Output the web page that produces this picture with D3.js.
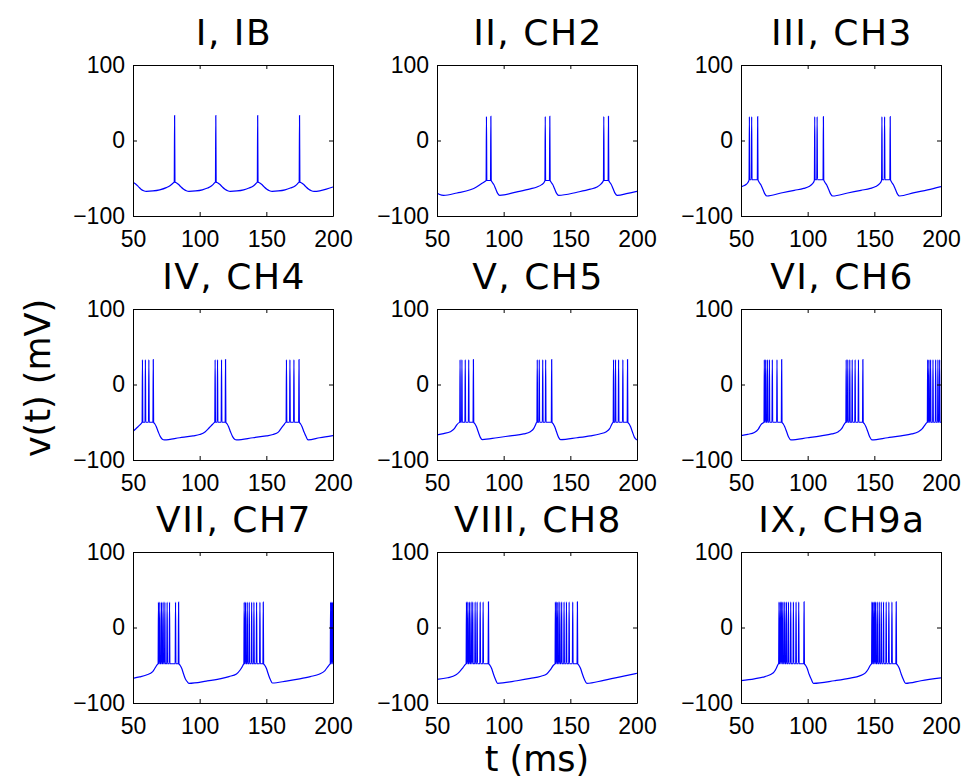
<!DOCTYPE html>
<html>
<head>
<meta charset="utf-8">
<script src="https://cdn.jsdelivr.net/npm/d3@7"></script>
<style>
	body { margin: 0; background: #fff; }
	svg { display: block; }
</style>
</head>
<body>
<div id="chart"></div>
<script>
'use strict';

// tick labels, shared by all panels
const xTicks = [50, 100, 150, 200];
const yTicks = [-100, 0, 100];

const titles = ["I, IB", "II, CH2", "III, CH3",
	"IV, CH4", "V, CH5", "VI, CH6",
	"VII, CH7", "VIII, CH8", "IX, CH9a"];

// sub-threshold trace as [t (ms), v (mV)]
// spikes are listed apart as spike times; peak / reset are per panel
const base1 = [[50,-55.3],[52,-57.5],[54,-61],[56,-64.5],[58,-66.5],[60,-67.3],[65,-66.8],[70,-65.3],[75,-62.4],[78,-59.5],[80,-56.5],
	[82.5,-56],[84,-58],[86,-61.5],[88,-64.5],[90,-66.5],[92,-67.3],[97,-66.8],[102,-65.3],[106,-63],[109,-60],[111,-56.5],
	[113.4,-56],[115,-58],[117,-61.5],[119,-64.5],[121,-66.5],[123,-67.3],[128,-66.8],[133,-65.3],[137,-63],[140.5,-60],[142.5,-56.5],
	[144.8,-56],[146.4,-58],[148.4,-61.5],[150.4,-64.5],[152.4,-66.5],[154.4,-67.3],[159,-66.8],[164,-65.3],[168,-63],[171.8,-60],[173.8,-56.5],
	[176.2,-56],[177.8,-58],[179.8,-61.5],[181.8,-64.5],[183.8,-66.5],[185.8,-67.3],[190,-66.6],[195,-64.5],[200,-61.5]];
const spikes1 = [81.2, 112.1, 143.5, 174.9];

const base2 = [[50,-69.5],[52,-71.5],[55,-72.6],[65,-69.5],[75,-65.3],[79.6,-61.5],[83,-57.5],[86.2,-54],
	[91.3,-55],[92.5,-58],[94,-64],[95.5,-70],[97,-72.6],[110,-68],[120,-64],[125,-61.5],[128.5,-58.5],[130.6,-54.5],
	[135.5,-55],[136.7,-58],[138.2,-64],[139.7,-70],[141.2,-72.6],[155,-68.5],[165,-64.5],[170,-61.5],[172.5,-58.5],[174.4,-54.5],
	[179.4,-55],[180.6,-58],[182.1,-64],[183.6,-70],[185.1,-72.6],[193,-70],[200,-67.3]];
const spikes2 = [87.1, 90.4, 131.2, 134.6, 175.1, 178.6];

const base3 = [[50,-61.5],[52,-60],[54,-58],[55.7,-54],
	[63.5,-55],[65,-59],[66.5,-65],[68,-71],[69.5,-73.5],[80,-69.5],[90,-66],[97,-63.5],[101,-61],[103.5,-57.5],[104.8,-54],
	[112.8,-55],[114.3,-59],[115.8,-65],[117.3,-71],[118.8,-73.5],[130,-69.5],[140,-66],[147,-63.5],[151,-61],[153.8,-57.5],[155.2,-54],
	[162.9,-55],[164.4,-59],[165.9,-65],[167.4,-71],[168.9,-73.5],[180,-69],[190,-65.5],[200,-61]];
const spikes3 = [56.3, 58.0, 62.5, 105.3, 107.1, 111.8, 155.7, 157.7, 161.9];

const base4 = [[50,-61.9],[52,-59],[54,-55.5],[56.4,-51],
	[66.3,-52],[67.5,-56],[69,-63],[70.5,-69],[72,-72.5],[73.5,-73.4],[85,-70.5],[95,-68],[100,-66.3],[104,-63],[107.3,-57],[109.5,-53],[110.9,-50.5],
	[120.5,-52],[121.7,-56],[123.2,-63],[124.7,-69],[126.2,-72.5],[127.7,-73.4],[140,-70.5],[150,-68],[155,-66.3],[159,-63],[161.5,-57],[163.3,-53],[164.4,-50.5],
	[175.6,-52],[176.8,-56],[178.3,-63],[179.8,-69],[181.3,-73.4],[190,-70.5],[200,-67.6]];
const spikes4 = [57.1, 59.3, 61.9, 65.2, 111.6, 113.4, 116.4, 119.4, 165.1, 167.7, 170.7, 174.5];

const base5 = [[50,-66.8],[55,-65],[60,-62.5],[63,-58.5],[65,-53],[66.6,-50.5],
	[78.4,-52],[79.6,-56],[81,-63],[82.5,-70],[84,-73],[95,-70.5],[105,-68],[115,-65.5],[120,-62.5],[122.5,-58.5],[124,-53],[124.6,-50.5],
	[137.1,-52],[138.3,-56],[139.7,-63],[141.2,-70],[142.7,-73],[155,-70.5],[165,-68],[172,-65.5],[177,-62.5],[179.5,-58.5],[181,-53],[181.8,-50.5],
	[194,-52],[195.2,-56],[196.6,-63],[198.1,-70],[200,-73.5]];
const spikes5 = [67.3, 68.7, 71.2, 73.8, 77.3, 125.2, 126.7, 129.3, 131.5, 136, 182.4, 183.9, 186.2, 189.4, 192.9];

const base6 = [[50,-67.6],[55,-66],[60,-63.5],[63,-59],[65,-53],[66.8,-50.5],
	[81.6,-52],[82.8,-56],[84.3,-63],[85.8,-70],[87.3,-73.4],[100,-70.5],[110,-68],[118,-65.5],[123,-62.5],[125.5,-58.5],[127.3,-53],[128.3,-50.5],
	[142.5,-52],[143.7,-56],[145.2,-63],[146.7,-70],[148.2,-73.4],[160,-70.5],[170,-68],[178,-65.5],[183,-62.5],[186,-58.5],[188.2,-53],[189.4,-50.5],
	[200,-50]];
const spikes6 = [67.5, 68.5, 69.8, 71.3, 73.5, 77, 80.5, 128.9, 130.1, 131.6, 133.4, 135.6, 138.1, 141.4, 190, 191, 192.2, 194, 196, 197.7, 199];

const base7 = [[50,-67.3],[55,-65.5],[60,-63],[64.8,-58.4],[66.8,-53],[68.5,-48.5],
	[85.3,-50],[86.5,-54],[88,-62],[89.5,-69],[91,-72.5],[92,-73.9],[105,-71],[115,-68],[122,-65],[127.6,-61.5],[130.5,-56],[132.5,-50],[132.9,-48.5],
	[148.8,-50],[150,-54],[151.5,-62],[153,-69],[154.5,-73.5],[165,-71],[175,-68],[183,-65],[190,-61.5],[194,-57],[196.5,-51],[197.7,-48.5],
	[200.5,-48]];
const spikes7 = [69.1, 70.1, 71.4, 72.6, 73.9, 75.6, 77.4, 81.9, 84.2, 133.4, 134.4, 135.7, 137.2, 139, 140.7, 142.7, 145.2, 147.7, 198.2, 199, 199.8];

const base8 = [[50,-68.6],[58,-66.5],[64,-63],[67,-58.4],[69.5,-53],[71.5,-48.5],
	[89.7,-50],[90.9,-54],[92.4,-62],[93.9,-69],[95.4,-73.9],[110,-70.5],[120,-67.5],[128,-64.5],[132.3,-61.5],[135,-56],[137.3,-50],[138.3,-48.5],
	[156.4,-50],[157.6,-54],[159.1,-62],[160.6,-69],[162.4,-73.9],[175,-70],[190,-64.5],[200,-60.6]];
const spikes8 = [72.1, 73.1, 74.3, 75.6, 76.8, 78.6, 80.1, 82.4, 84.6, 88.6, 138.8, 139.8, 140.8, 142.1, 143.5, 145.3, 147.1, 149.1, 151.8, 155.3];

const base9 = [[50,-70.4],[60,-68],[68,-65],[74.3,-60],[76.5,-54],[77.9,-48.5],
	[98.4,-50],[99.6,-54],[101.1,-62],[102.8,-69],[104.3,-73.9],[120,-70.5],[132,-67],[139,-64],[143.1,-60.5],[145.5,-55],[147,-50],[147.7,-48.5],
	[167.5,-50],[168.7,-54],[170.2,-62],[171.8,-69],[173.5,-73.9],[185,-70.5],[200,-66.8]];
const spikes9 = [78.5, 79.5, 80.5, 81.5, 82.8, 84.1, 85.6, 87.3, 89.3, 91.3, 93.3, 97.3,
	148.2, 149, 150, 150.9, 152.2, 153.7, 155.2, 156.9, 158.9, 160.9, 163.2, 166.4];

// spike top and the level the cell resets to, per panel (mV)
const peaks = [33, 32, 31.5, 33, 33, 33, 33.5, 34, 34];
const resets = [-55, -53, -52, -50, -50, -50, -48, -48, -48];

const bases = [base1, base2, base3, base4, base5, base6, base7, base8, base9];
const spikeTimes = [spikes1, spikes2, spikes3, spikes4, spikes5, spikes6, spikes7, spikes8, spikes9];

const W = 974, H = 781;
const colLeft = [133, 437, 741];
const rowTop = [65, 309, 552];
const pw = 200, ph = 151;

const svg = d3.select("#chart")
	.append("svg")
		.attr("width", W)
		.attr("height", H);

const x = d3.scaleLinear().domain([50, 200]).range([0, pw]);
const y = d3.scaleLinear().domain([-100, 100]).range([ph, 0]);

const line = d3.line()
	.x(d => x(d[0]))
	.y(d => y(d[1]))
	.curve(d3.curveMonotoneX);

titles.forEach((title, i) => {
	const col = i % 3, row = Math.floor(i / 3);
	const g = svg.append("g")
		.attr("transform", `translate(${colLeft[col]},${rowTop[row]})`);

	g.append("clipPath")
		.attr("id", "clip" + i)
		.append("rect")
			.attr("width", pw)
			.attr("height", ph);

	// merge the spikes into the slow trace
	const pts = bases[i].slice();
	spikeTimes[i].forEach(s => {
		pts.push([s - 0.25, resets[i]], [s, peaks[i]], [s + 0.25, resets[i]]);
	});
	pts.sort((a, b) => a[0] - b[0]);

	g.append("path")
		.datum(pts)
		.attr("clip-path", `url(#clip${i})`)
		.attr("d", line)
		.attr("fill", "none")
		.attr("stroke", "#0000ff")
		.attr("stroke-width", 1.2);

	// box with inward ticks on all four sides
	const fmtY = d3.format("d");
	g.append("g")
		.attr("class", "axis")
		.attr("transform", `translate(0,${ph})`)
		.call(d3.axisBottom(x).tickValues(xTicks).tickSize(-4).tickSizeOuter(0).tickPadding(15));
	g.append("g")
		.attr("class", "axis")
		.call(d3.axisLeft(y).tickValues(yTicks).tickFormat(d => fmtY(d).replace("-", "\u2212"))
			.tickSize(-4).tickSizeOuter(0).tickPadding(8));
	g.append("g")
		.attr("class", "axis")
		.call(d3.axisTop(x).tickValues(xTicks).tickSize(-4).tickSizeOuter(0).tickFormat(""));
	g.append("g")
		.attr("class", "axis")
		.attr("transform", `translate(${pw},0)`)
		.call(d3.axisRight(y).tickValues(yTicks).tickSize(-4).tickSizeOuter(0).tickFormat(""));

	g.append("text")
		.attr("x", pw / 2 + 1)
		.attr("y", -20)
		.attr("text-anchor", "middle")
		.attr("font-family", "DejaVu Sans")
		.attr("font-size", 36)
		.attr("letter-spacing", 1.5)
		.attr("fill", "#000")
		.text(title);
});

svg.selectAll(".axis text")
	.attr("font-family", "Liberation Sans, Arial, sans-serif")
	.attr("font-size", 23)
	.attr("fill", "#000");
svg.selectAll(".axis path, .axis line")
	.attr("stroke", "#000")
	.attr("stroke-width", 1);

// shared axis labels
svg.append("text")
	.attr("transform", "translate(38,378) rotate(-90)")
	.attr("text-anchor", "middle")
	.attr("dominant-baseline", "central")
	.attr("font-family", "DejaVu Sans")
	.attr("font-size", 35)
	.text("v(t) (mV)");

svg.append("text")
	.attr("x", 537)
	.attr("y", 771)
	.attr("text-anchor", "middle")
	.attr("font-family", "DejaVu Sans")
	.attr("font-size", 35)
	.text("t (ms)");
</script>
</body>
</html>
